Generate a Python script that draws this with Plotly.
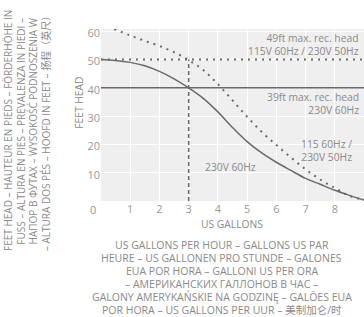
import plotly.graph_objects as go

# ---- data ----
solid_x = [0, 0.5, 1, 1.5, 2, 2.5, 3, 3.5, 4, 4.5, 5, 5.5, 6, 6.5, 7, 7.5, 8, 8.5, 9]
solid_y = [50, 49.7, 49, 47.8, 45.8, 43.2, 40, 36.3, 31.5, 26, 21, 17, 13.7, 10.8, 8, 5.9, 3.8, 2, 0.3]

dotted_x = [0.45, 1, 1.5, 2, 2.5, 3, 3.5, 4, 4.5, 5, 5.5, 6, 6.5, 7, 7.5, 8, 8.5, 9]
dotted_y = [60.8, 58.5, 56.6, 54.8, 52.6, 49.8, 46.3, 41.3, 35.6, 29.8, 24.4, 19.8, 15.4, 11.2, 7.6, 4.6, 1.8, 0.4]

head_high = 50      # "49ft max. rec. head" line
head_low = 40       # "39ft max. rec. head" line
rated_flow = 3      # vertical dashed marker
x_range = [0, 9]
y_range = [0, 60.8]
x_ticks = [1, 2, 3, 4, 5, 6, 7, 8, 9]
y_ticks = [10, 20, 30, 40, 50, 60]

label_high = "49ft max. rec. head<br>115V 60Hz / 230V 50Hz"
label_low = "39ft max. rec. head<br>230V 60Hz"
label_dotted = "115 60Hz /<br>230V 50Hz"
label_solid = "230V 60Hz"
x_title = "US GALLONS"
y_title = "FEET HEAD"
x_caption = ["US GALLONS PER HOUR – GALLONS US PAR",
             "HEURE – US GALLONEN PRO STUNDE – GALONES",
             "EUA POR HORA – GALLONI US PER ORA",
             "– АМЕРИКАНСКИХ ГАЛЛОНОВ В ЧАС –",
             "GALONY AMERYKAŃSKIE NA GODZINĘ – GALÕES EUA",
             "POR HORA – US GALLONS PER UUR – 美制加仑/时"]
y_caption = ["FEET HEAD – HAUTEUR EN PIEDS – FÖRDERHÖHE IN",
             "FUSS – ALTURA EN PIES – PREVALENZA IN PIEDI –",
             "НАПОР В ФУТАХ – WYSOKOŚĆ PODNOSZENIA W",
             "– ALTURA DOS PÉS – HOOFD IN FEET – 扬程（英尺）"]

FONT = "Open Sans, Noto Sans CJK SC, sans-serif"
TXT = "#8a8a8a"
LINE = "#6a6a6a"

fig = go.Figure()

# reference lines
fig.add_trace(go.Scatter(x=x_range, y=[head_high, head_high], mode="lines",
                         line=dict(color=LINE, width=2, dash="2px,5px"), hoverinfo="skip"))
fig.add_trace(go.Scatter(x=x_range, y=[head_low, head_low], mode="lines",
                         line=dict(color=LINE, width=1.5), hoverinfo="skip"))
fig.add_trace(go.Scatter(x=[rated_flow, rated_flow], y=[0, head_high], mode="lines",
                         line=dict(color=LINE, width=1.5, dash="4px,3px"), hoverinfo="skip"))

# curves
fig.add_trace(go.Scatter(x=dotted_x, y=dotted_y, mode="lines", line_shape="spline",
                         line=dict(color=LINE, width=2, dash="2px,5px"), hoverinfo="skip"))
fig.add_trace(go.Scatter(x=solid_x, y=solid_y, mode="lines", line_shape="spline",
                         line=dict(color=LINE, width=1.5), hoverinfo="skip"))

ann_font = dict(family=FONT, size=10.3, color=TXT)
cap_font = dict(family=FONT, size=10.5, color=TXT)
side_font = dict(family=FONT, size=10, color=TXT)
annotations = [
    dict(x=8.86, y=head_high, xref="x", yref="y", text=label_high, showarrow=False,
         xanchor="right", yanchor="bottom", align="right", font=ann_font, borderpad=0, yshift=1),
    dict(x=8.86, y=head_low, xref="x", yref="y", text=label_low, showarrow=False,
         xanchor="right", yanchor="top", align="right", font=ann_font, borderpad=0, yshift=-1),
    dict(x=8.62, y=17.7, xref="x", yref="y", text=label_dotted, showarrow=False,
         xanchor="right", yanchor="middle", align="right", font=ann_font, borderpad=0),
    dict(x=4.42, y=12.1, xref="x", yref="y", text=label_solid, showarrow=False,
         xanchor="center", yanchor="middle", font=ann_font),
    dict(x=0.498, y=-0.134, xref="paper", yref="paper", text=x_title, showarrow=False,
         xanchor="center", yanchor="middle", font=ann_font),
    dict(x=-0.084, y=0.57, xref="paper", yref="paper", text=y_title, showarrow=False,
         textangle=-90, xanchor="center", yanchor="middle", font=ann_font),
]
for i, t in enumerate(x_caption):
    annotations.append(dict(x=0.46, y=(201 - (245 + 13 * i)) / 172, xref="paper", yref="paper",
                            text=t, showarrow=False, xanchor="center", yanchor="middle",
                            font=cap_font, borderpad=0))
for i, t in enumerate(y_caption):
    annotations.append(dict(x=((8 + 12.7 * i) - 101) / 263, y=0.407, xref="paper", yref="paper",
                            text=t, showarrow=False, textangle=-90, xanchor="center",
                            yanchor="middle", font=side_font, borderpad=0))
annotations.append(dict(x=-0.03, y=0, xref="paper", yref="y", text="0", showarrow=False,
                        xanchor="center", yanchor="middle", yshift=-8,
                        font=dict(family=FONT, size=11, color="#999")))

fig.update_layout(
    width=364, height=317,
    margin=dict(l=101, r=0, t=29, b=116, pad=0),
    paper_bgcolor="white", plot_bgcolor="#efefef",
    showlegend=False,
    font=dict(family=FONT, size=11, color="#999"),
    annotations=annotations,
)
fig.update_xaxes(range=x_range, tickvals=x_ticks, showgrid=True, gridcolor="white", gridwidth=1,
                 zeroline=False, showline=False, ticks="", fixedrange=True,
                 tickfont=dict(family=FONT, size=11, color="#999"))
fig.update_yaxes(range=y_range, tickvals=y_ticks, showgrid=True, gridcolor="white", gridwidth=1,
                 zeroline=False, showline=False, ticks="", fixedrange=True, ticklabelshift=2,
                 tickfont=dict(family=FONT, size=11, color="#999"))

fig.write_html("out.html", config={"displayModeBar": False},
               post_script="document.body.style.margin='0px';document.body.style.overflow='hidden';")
